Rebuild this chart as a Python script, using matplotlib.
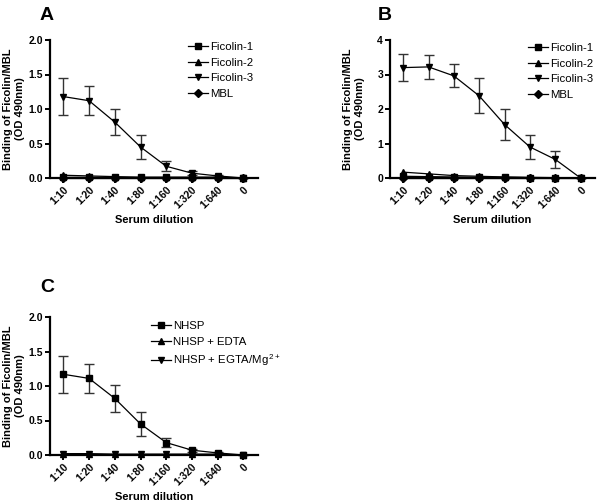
import matplotlib
matplotlib.use('Agg')
import matplotlib.pyplot as plt

plt.rcParams['font.family'] = ['Liberation Sans', 'DejaVu Sans']
plt.rcParams['mathtext.default'] = 'regular'

dilutions = ['1:10', '1:20', '1:40', '1:80', '1:160', '1:320', '1:640', '0']

# panel A
fic1_A = [0.01, 0.01, 0.01, 0.01, 0.01, 0.01, 0.01, 0.00]
fic2_A = [0.04, 0.03, 0.02, 0.01, 0.01, 0.01, 0.01, 0.00]
fic3_A = [1.18, 1.12, 0.81, 0.45, 0.17, 0.07, 0.03, 0.00]
fic3_A_err = [0.27, 0.21, 0.19, 0.18, 0.07, 0.025, 0.01, 0.0]
mbl_A = [0.00, 0.00, 0.00, 0.00, 0.00, 0.00, 0.00, 0.00]

# panel B
fic1_B = [0.05, 0.04, 0.03, 0.02, 0.02, 0.01, 0.01, 0.00]
fic2_B = [0.17, 0.12, 0.07, 0.05, 0.03, 0.02, 0.01, 0.00]
fic3_B = [3.20, 3.22, 2.96, 2.38, 1.55, 0.90, 0.54, 0.00]
fic3_B_err = [0.38, 0.35, 0.33, 0.51, 0.45, 0.34, 0.24, 0.0]
mbl_B = [0.00, 0.00, 0.00, 0.00, 0.00, 0.00, 0.00, 0.00]

# panel C
nhsp = [1.17, 1.11, 0.82, 0.45, 0.18, 0.07, 0.03, 0.00]
nhsp_err = [0.27, 0.21, 0.19, 0.18, 0.07, 0.02, 0.01, 0.0]
nhsp_edta = [0.02, 0.02, 0.01, 0.01, 0.01, 0.01, 0.01, 0.00]
nhsp_egta = [0.02, 0.01, 0.01, 0.01, 0.01, 0.01, 0.01, 0.00]

W, H = 598, 504
fig = plt.figure(figsize=(W / 100, H / 100), dpi=100)


def make_axes(left, right, top, bottom):
    return fig.add_axes([left / W, 1 - bottom / H, (right - left) / W, (bottom - top) / H])


def style_axes(ax, ymax, yticks, yfmt, width_px):
    x = range(len(dilutions))
    ax.set_xlim(-0.52, 7.57)
    ax.set_ylim(0, ymax)
    for s in ['top', 'right']:
        ax.spines[s].set_visible(False)
    for s in ['left', 'bottom']:
        ax.spines[s].set_linewidth(1.6)
    ax.set_xticks(list(x))
    ax.set_xticklabels(dilutions, rotation=45, ha='right', rotation_mode='anchor',
                       fontsize=7.5, fontweight='bold')
    ax.set_yticks(yticks)
    ax.set_yticklabels([yfmt.format(v) for v in yticks], fontsize=7.5, fontweight='bold')
    ax.tick_params(direction='out', length=3.5, width=1.4, pad=1.5)
    ax.set_xlabel('Serum dilution', fontsize=8, fontweight='bold', labelpad=3)
    ax.set_ylabel('Binding of Ficolin/MBL\n(OD 490nm)', fontsize=8, fontweight='bold',
                  linespacing=1.3)
    ax.yaxis.set_label_coords(-25 / width_px, 0.5)


def plot_series(ax, y, marker, label, err=None):
    x = list(range(len(dilutions)))
    if err is not None:
        ax.errorbar(x, y, yerr=err, fmt='none', ecolor='#333333', elinewidth=1.0,
                    capsize=3.5, capthick=1.0, zorder=2, clip_on=False)
    ax.plot(x, y, color='black', marker=marker, markersize=3.8, linewidth=0.9,
            label=label, zorder=3, clip_on=False)


def add_legend(ax, x0, y0):
    ax.legend(loc='upper left', bbox_to_anchor=(x0 / W, 1 - y0 / H),
              bbox_transform=fig.transFigure, frameon=False, fontsize=8.2,
              handlelength=1.75, handletextpad=0.2, labelspacing=0.5,
              borderpad=0, borderaxespad=0)


# A
axA = make_axes(50, 258, 40, 178)
plot_series(axA, fic1_A, 's', 'Ficolin-1')
plot_series(axA, fic2_A, '^', 'Ficolin-2')
plot_series(axA, fic3_A, 'v', 'Ficolin-3', fic3_A_err)
plot_series(axA, mbl_A, 'D', 'MBL')
style_axes(axA, 2.0, [0, 0.5, 1.0, 1.5, 2.0], '{:.1f}', 208)
add_legend(axA, 188, 42)

# B
axB = make_axes(390, 595, 40, 178)
plot_series(axB, fic1_B, 's', 'Ficolin-1')
plot_series(axB, fic2_B, '^', 'Ficolin-2')
plot_series(axB, fic3_B, 'v', 'Ficolin-3', fic3_B_err)
plot_series(axB, mbl_B, 'D', 'MBL')
style_axes(axB, 4, [0, 1, 2, 3, 4], '{:d}', 205)
add_legend(axB, 528, 43)

# C
axC = make_axes(50, 258, 317, 455)
plot_series(axC, nhsp, 's', 'NHSP', nhsp_err)
plot_series(axC, nhsp_edta, '^', 'NHSP + EDTA')
plot_series(axC, nhsp_egta, 'v', 'NHSP + EGTA/Mg$^{\\,2+}$')
style_axes(axC, 2.0, [0, 0.5, 1.0, 1.5, 2.0], '{:.1f}', 208)
add_legend(axC, 151, 321)

fig.text(40 / W, 1 - 15 / H, 'A', fontsize=14, fontweight='bold', va='center', ha='left')
fig.text(378 / W, 1 - 15 / H, 'B', fontsize=14, fontweight='bold', va='center', ha='left')
fig.text(40 / W, 1 - 288 / H, 'C', fontsize=14, fontweight='bold', va='center', ha='left')

fig.savefig('out.png', dpi=100)
